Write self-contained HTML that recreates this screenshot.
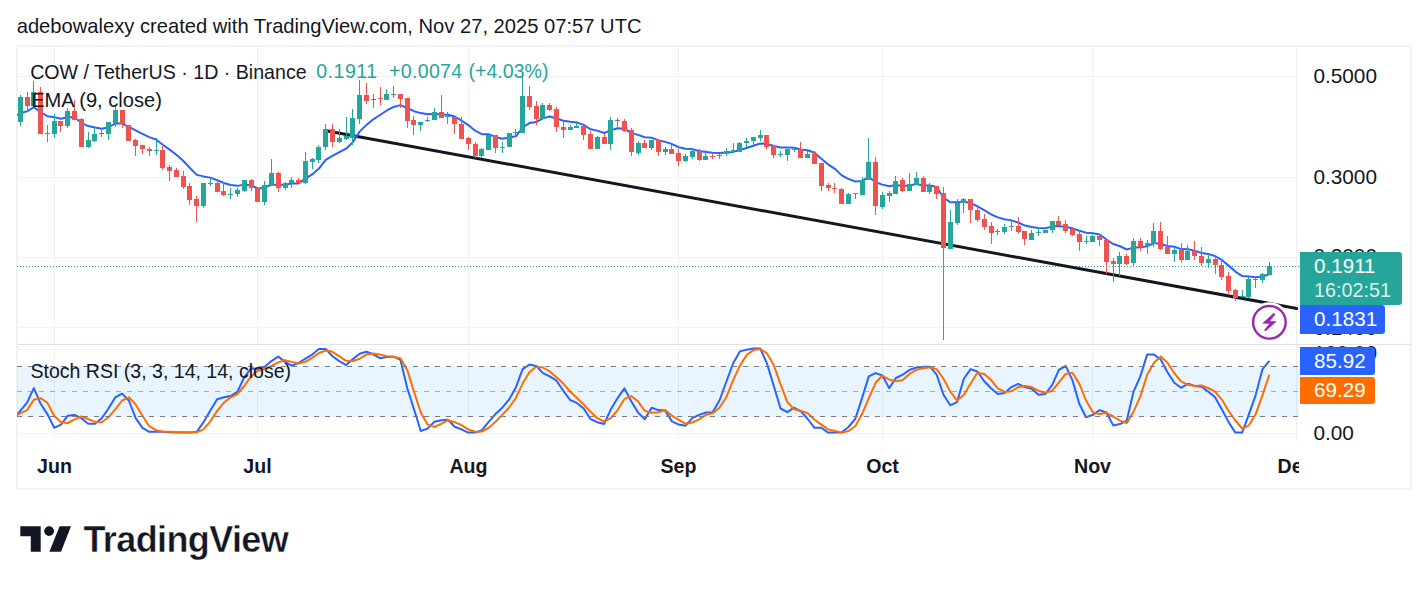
<!DOCTYPE html>
<html><head><meta charset="utf-8"><style>
html,body{margin:0;padding:0;background:#fff;width:1428px;height:591px;overflow:hidden}
.t{position:absolute;font-family:"Liberation Sans", sans-serif;white-space:pre;color:#131722;line-height:1}
svg{position:absolute;left:0;top:0}
</style></head><body>
<svg width="1428" height="591" viewBox="0 0 1428 591">
<defs>
<clipPath id="mp"><rect x="17" y="46" width="1282" height="298"/></clipPath>
<clipPath id="rp"><rect x="17" y="345" width="1282" height="96.5"/></clipPath>
</defs>
<rect x="17" y="46" width="1394" height="443" fill="none" stroke="#f2f2f2" stroke-width="2"/>
<line x1="54.5" y1="46" x2="54.5" y2="441.5" stroke="#f1f1f2" stroke-width="1"/>
<line x1="257.5" y1="46" x2="257.5" y2="441.5" stroke="#f1f1f2" stroke-width="1"/>
<line x1="468.5" y1="46" x2="468.5" y2="441.5" stroke="#f1f1f2" stroke-width="1"/>
<line x1="678.5" y1="46" x2="678.5" y2="441.5" stroke="#f1f1f2" stroke-width="1"/>
<line x1="882.5" y1="46" x2="882.5" y2="441.5" stroke="#f1f1f2" stroke-width="1"/>
<line x1="1092.5" y1="46" x2="1092.5" y2="441.5" stroke="#f1f1f2" stroke-width="1"/>
<line x1="17" y1="76.5" x2="1297" y2="76.5" stroke="#f1f1f2" stroke-width="1"/>
<line x1="17" y1="177.5" x2="1297" y2="177.5" stroke="#f1f1f2" stroke-width="1"/>
<line x1="17" y1="257.5" x2="1297" y2="257.5" stroke="#f1f1f2" stroke-width="1"/>
<line x1="17" y1="327.5" x2="1297" y2="327.5" stroke="#f1f1f2" stroke-width="1"/>
<line x1="17" y1="349.5" x2="1297" y2="349.5" stroke="#f1f1f2" stroke-width="1"/>
<line x1="17" y1="433.5" x2="1297" y2="433.5" stroke="#f1f1f2" stroke-width="1"/>
<line x1="1296.5" y1="46" x2="1296.5" y2="441.5" stroke="#eeeff2" stroke-width="1"/>
<line x1="17" y1="344.5" x2="1411" y2="344.5" stroke="#e0e3eb" stroke-width="1"/>
<g clip-path="url(#rp)">
<rect x="17" y="366" width="1282" height="51" fill="rgba(33,150,243,0.1)"/>
<polyline points="13.47,419.20 20.26,410.90 27.05,402.60 33.84,388.10 40.63,403.70 47.41,414.10 54.20,427.80 60.99,424.60 67.78,415.70 74.57,414.90 81.36,418.20 88.14,423.80 94.93,423.80 101.72,418.20 108.51,408.50 115.30,397.30 122.09,393.60 128.88,400.50 135.66,418.20 142.45,427.80 149.24,431.80 156.03,431.80 162.82,431.80 169.61,432.30 176.39,432.60 183.18,432.60 189.97,432.60 196.76,431.80 203.55,422.20 210.34,410.50 217.13,399.30 223.91,397.30 230.70,396.10 237.49,391.60 244.28,377.20 251.07,368.30 257.86,369.10 264.64,366.70 271.43,361.10 278.22,356.60 285.01,361.90 291.80,365.60 298.59,363.00 305.37,358.70 312.16,354.60 318.95,349.00 325.74,349.00 332.53,356.30 339.32,361.10 346.11,365.10 352.89,359.10 359.68,353.80 366.47,351.80 373.26,354.30 380.05,358.20 386.84,357.10 393.62,356.60 400.41,359.80 407.20,388.00 413.99,409.30 420.78,431.00 427.57,428.60 434.36,421.80 441.14,420.20 447.93,419.80 454.72,426.70 461.51,429.40 468.30,432.60 475.09,432.60 481.87,430.20 488.66,421.80 495.45,414.10 502.24,407.70 509.03,399.70 515.82,387.60 522.61,369.10 529.39,364.60 536.18,365.90 542.97,373.10 549.76,376.40 556.55,380.70 563.34,390.80 570.12,400.00 576.91,402.90 583.70,408.50 590.49,419.00 597.28,422.20 604.07,424.00 610.86,409.30 617.64,398.10 624.43,388.40 631.22,401.30 638.01,412.50 644.80,419.30 651.59,407.70 658.37,410.10 665.16,410.60 671.95,421.40 678.74,424.60 685.53,425.70 692.32,418.20 699.11,414.90 705.89,412.50 712.68,412.20 719.47,400.50 726.26,382.00 733.05,363.50 739.84,351.40 746.62,349.80 753.41,348.50 760.20,348.50 766.99,363.50 773.78,386.00 780.57,408.50 787.35,412.20 794.14,407.70 800.93,411.30 807.72,419.00 814.51,427.80 821.30,427.80 828.09,432.60 834.87,432.60 841.66,432.60 848.45,427.00 855.24,419.00 862.03,398.10 868.82,376.40 875.60,373.10 882.39,375.50 889.18,388.10 895.97,378.00 902.76,374.70 909.55,369.90 916.34,367.50 923.12,366.70 929.91,366.70 936.70,374.70 943.49,394.80 950.28,405.30 957.07,402.10 963.85,378.80 970.64,369.10 977.43,371.50 984.22,381.20 991.01,388.20 997.80,394.00 1004.59,392.90 1011.37,387.10 1018.16,383.90 1024.95,387.10 1031.74,388.70 1038.53,394.80 1045.32,394.00 1052.10,385.20 1058.89,369.90 1065.68,365.90 1072.47,380.40 1079.26,403.70 1086.05,417.30 1092.84,414.90 1099.62,410.10 1106.41,412.50 1113.20,425.40 1119.99,424.10 1126.78,420.60 1133.57,391.60 1140.35,376.40 1147.14,354.60 1153.93,354.60 1160.72,359.50 1167.51,372.30 1174.30,382.80 1181.08,387.80 1187.87,383.80 1194.66,386.00 1201.45,386.80 1208.24,391.60 1215.03,397.20 1221.82,409.30 1228.60,422.10 1235.39,432.60 1242.18,432.60 1248.97,414.10 1255.76,394.80 1262.55,369.10 1269.33,360.80" fill="none" stroke="#2962ff" stroke-width="2" stroke-linejoin="round"/>
<polyline points="13.47,416.50 20.26,413.30 27.05,410.10 33.84,399.70 40.63,398.10 47.41,402.90 54.20,415.70 60.99,422.20 67.78,423.00 74.57,419.30 81.36,416.50 88.14,419.00 94.93,421.80 101.72,422.20 108.51,417.30 115.30,409.30 122.09,400.50 128.88,397.30 135.66,404.50 142.45,415.70 149.24,426.20 156.03,430.20 162.82,431.80 169.61,431.80 176.39,432.00 183.18,432.30 189.97,432.60 196.76,432.30 203.55,429.40 210.34,421.40 217.13,410.90 223.91,402.60 230.70,397.30 237.49,394.00 244.28,386.00 251.07,376.40 257.86,370.70 264.64,368.80 271.43,365.90 278.22,362.40 285.01,360.30 291.80,361.90 298.59,363.50 305.37,361.90 312.16,357.90 318.95,353.00 325.74,350.60 332.53,351.80 339.32,356.30 346.11,360.80 352.89,361.10 359.68,358.70 366.47,354.60 373.26,353.40 380.05,354.60 386.84,356.30 393.62,357.10 400.41,358.20 407.20,369.90 413.99,391.60 420.78,412.50 427.57,424.60 434.36,427.00 441.14,423.80 447.93,420.20 454.72,422.20 461.51,425.10 468.30,429.40 475.09,431.80 481.87,431.50 488.66,427.80 495.45,421.80 502.24,414.90 509.03,407.70 515.82,398.00 522.61,383.60 529.39,372.30 536.18,366.70 542.97,367.50 549.76,371.50 556.55,377.20 563.34,383.60 570.12,391.60 576.91,398.00 583.70,404.50 590.49,411.70 597.28,418.20 604.07,421.50 610.86,418.20 617.64,410.10 624.43,398.90 631.22,396.10 638.01,401.30 644.80,410.90 651.59,412.80 658.37,412.20 665.16,410.10 671.95,415.70 678.74,419.80 685.53,423.80 692.32,422.50 699.11,419.30 705.89,414.90 712.68,413.30 719.47,407.70 726.26,397.30 733.05,380.40 739.84,365.90 746.62,355.00 753.41,350.10 760.20,349.00 766.99,353.40 773.78,365.10 780.57,384.40 787.35,402.10 794.14,409.30 800.93,410.90 807.72,413.30 814.51,419.80 821.30,424.60 828.09,429.40 834.87,431.00 841.66,432.60 848.45,431.00 855.24,426.20 862.03,414.10 868.82,398.10 875.60,382.80 882.39,375.50 889.18,379.60 895.97,381.20 902.76,380.00 909.55,373.90 916.34,369.90 923.12,368.30 929.91,367.20 936.70,369.10 943.49,378.80 950.28,391.60 957.07,400.50 963.85,394.80 970.64,383.60 977.43,372.70 984.22,373.90 991.01,380.00 997.80,388.40 1004.59,391.90 1011.37,391.30 1018.16,387.10 1024.95,386.00 1031.74,387.10 1038.53,390.80 1045.32,392.90 1052.10,390.80 1058.89,382.30 1065.68,373.90 1072.47,372.70 1079.26,383.60 1086.05,400.50 1092.84,412.20 1099.62,414.10 1106.41,412.80 1113.20,416.50 1119.99,420.60 1126.78,423.00 1133.57,411.70 1140.35,396.40 1147.14,374.70 1153.93,362.70 1160.72,356.60 1167.51,362.70 1174.30,373.10 1181.08,381.40 1187.87,384.80 1194.66,386.00 1201.45,385.50 1208.24,388.00 1215.03,391.60 1221.82,399.60 1228.60,410.90 1235.39,420.50 1242.18,428.50 1248.97,425.30 1255.76,414.10 1262.55,394.80 1269.33,374.70" fill="none" stroke="#ff6d00" stroke-width="2" stroke-linejoin="round"/>
<line x1="17" y1="366.5" x2="1299" y2="366.5" stroke="#787b86" stroke-width="1" stroke-dasharray="5 6"/>
<line x1="17" y1="391.5" x2="1299" y2="391.5" stroke="rgba(120,123,134,0.6)" stroke-width="1" stroke-dasharray="5 6"/>
<line x1="17" y1="416.5" x2="1299" y2="416.5" stroke="#787b86" stroke-width="1" stroke-dasharray="5 6"/>
</g>
<g clip-path="url(#mp)">
<line x1="17" y1="266.5" x2="1299" y2="266.5" stroke="#26a69a" stroke-width="1" stroke-dasharray="1 2"/>
<line x1="326" y1="130.8" x2="1296.7" y2="308.4" stroke="#131722" stroke-width="3" stroke-linecap="round"/>
<polyline points="13.47,117.40 20.26,113.00 27.05,111.39 33.84,107.31 40.63,112.17 47.41,116.26 54.20,117.14 60.99,118.71 67.78,117.04 74.57,117.41 81.36,122.81 88.14,126.05 94.93,127.52 101.72,128.68 108.51,127.24 115.30,123.54 122.09,123.62 128.88,126.79 135.66,130.32 142.45,133.86 149.24,137.11 156.03,139.53 162.82,144.80 169.61,149.66 176.39,154.76 183.18,160.75 189.97,167.98 196.76,174.85 203.55,176.40 210.34,177.64 217.13,180.24 223.91,182.96 230.70,184.96 237.49,185.86 244.28,184.64 251.07,185.28 257.86,188.38 264.64,187.66 271.43,184.56 278.22,185.04 285.01,184.59 291.80,183.62 298.59,183.40 305.37,178.65 312.16,174.43 318.95,168.54 325.74,159.86 332.53,155.98 339.32,152.19 346.11,148.71 352.89,142.13 359.68,131.64 366.47,124.90 373.26,119.31 380.05,114.99 386.84,110.48 393.62,106.94 400.41,105.12 407.20,108.03 413.99,111.20 420.78,113.10 427.57,114.34 434.36,113.81 441.14,114.60 447.93,114.70 454.72,116.51 461.51,120.64 468.30,125.06 475.09,130.73 481.87,134.22 488.66,134.29 495.45,136.94 502.24,138.78 509.03,137.53 515.82,136.31 522.61,127.49 529.39,123.05 536.18,122.05 542.97,118.41 549.76,116.51 556.55,118.47 563.34,120.70 570.12,121.85 576.91,122.55 583.70,124.83 590.49,129.25 597.28,130.62 604.07,133.04 610.86,130.32 617.64,128.29 624.43,128.63 631.22,133.04 638.01,134.89 644.80,137.26 651.59,137.68 658.37,140.31 665.16,141.89 671.95,144.06 678.74,147.20 685.53,148.83 692.32,149.11 699.11,151.05 705.89,151.93 712.68,152.74 719.47,153.07 726.26,152.57 733.05,151.91 739.84,149.97 746.62,148.02 753.41,145.70 760.20,143.43 766.99,143.98 773.78,146.00 780.57,147.46 787.35,147.59 794.14,147.67 800.93,149.50 807.72,150.30 814.51,152.77 821.30,158.81 828.09,164.30 834.87,168.83 841.66,175.35 848.45,178.89 855.24,181.48 862.03,180.96 868.82,176.95 875.60,182.24 882.39,184.65 889.18,186.23 895.97,185.07 902.76,186.07 909.55,185.55 916.34,184.00 923.12,185.40 929.91,185.40 936.70,186.91 943.49,197.70 950.28,202.25 957.07,202.24 963.85,201.53 970.64,203.16 977.43,206.28 984.22,210.09 991.01,214.32 997.80,217.39 1004.59,219.20 1011.37,220.39 1018.16,222.50 1024.95,225.56 1031.74,226.99 1038.53,227.90 1045.32,228.20 1052.10,226.62 1058.89,226.09 1065.68,226.89 1072.47,228.33 1079.26,230.78 1086.05,232.63 1092.84,233.20 1099.62,234.52 1106.41,239.54 1113.20,244.00 1119.99,246.26 1126.78,249.48 1133.57,247.63 1140.35,247.34 1147.14,246.37 1153.93,243.07 1160.72,244.04 1167.51,245.98 1174.30,246.70 1181.08,249.12 1187.87,249.35 1194.66,250.61 1201.45,252.98 1208.24,254.06 1215.03,256.14 1221.82,259.97 1228.60,265.64 1235.39,271.55 1242.18,276.09 1248.97,276.59 1255.76,277.15 1262.55,276.43 1269.33,274.18" fill="none" stroke="#2962ff" stroke-width="2" stroke-linejoin="round"/>
<rect x="20" y="95" width="1" height="31" fill="#26a69a"/>
<rect x="18" y="97" width="5" height="25" fill="#26a69a"/>
<rect x="27" y="92" width="1" height="18" fill="#ef5350"/>
<rect x="25" y="97" width="5" height="9" fill="#ef5350"/>
<rect x="33" y="81" width="1" height="26" fill="#26a69a"/>
<rect x="31" y="92" width="5" height="14" fill="#26a69a"/>
<rect x="40" y="87" width="1" height="47" fill="#ef5350"/>
<rect x="38" y="92" width="5" height="42" fill="#ef5350"/>
<rect x="47" y="125" width="1" height="17" fill="#ef5350"/>
<rect x="45" y="133" width="5" height="1" fill="#ef5350"/>
<rect x="54" y="114" width="1" height="24" fill="#26a69a"/>
<rect x="52" y="121" width="5" height="13" fill="#26a69a"/>
<rect x="60" y="121" width="1" height="11" fill="#ef5350"/>
<rect x="58" y="121" width="5" height="5" fill="#ef5350"/>
<rect x="67" y="108" width="1" height="20" fill="#26a69a"/>
<rect x="65" y="111" width="5" height="15" fill="#26a69a"/>
<rect x="74" y="100" width="1" height="20" fill="#ef5350"/>
<rect x="72" y="111" width="5" height="9" fill="#ef5350"/>
<rect x="81" y="118" width="1" height="29" fill="#ef5350"/>
<rect x="79" y="119" width="5" height="28" fill="#ef5350"/>
<rect x="88" y="132" width="1" height="16" fill="#26a69a"/>
<rect x="86" y="140" width="5" height="7" fill="#26a69a"/>
<rect x="94" y="127" width="1" height="15" fill="#26a69a"/>
<rect x="92" y="134" width="5" height="7" fill="#26a69a"/>
<rect x="101" y="130" width="1" height="7" fill="#ef5350"/>
<rect x="99" y="133" width="5" height="1" fill="#ef5350"/>
<rect x="108" y="122" width="1" height="18" fill="#26a69a"/>
<rect x="106" y="122" width="5" height="12" fill="#26a69a"/>
<rect x="115" y="106" width="1" height="21" fill="#26a69a"/>
<rect x="113" y="110" width="5" height="13" fill="#26a69a"/>
<rect x="122" y="110" width="1" height="18" fill="#ef5350"/>
<rect x="120" y="110" width="5" height="14" fill="#ef5350"/>
<rect x="128" y="125" width="1" height="16" fill="#ef5350"/>
<rect x="126" y="125" width="5" height="16" fill="#ef5350"/>
<rect x="135" y="139" width="1" height="17" fill="#ef5350"/>
<rect x="133" y="140" width="5" height="6" fill="#ef5350"/>
<rect x="142" y="145" width="1" height="9" fill="#ef5350"/>
<rect x="140" y="145" width="5" height="4" fill="#ef5350"/>
<rect x="149" y="147" width="1" height="9" fill="#ef5350"/>
<rect x="147" y="149" width="5" height="2" fill="#ef5350"/>
<rect x="156" y="138" width="1" height="17" fill="#26a69a"/>
<rect x="154" y="150" width="5" height="1" fill="#26a69a"/>
<rect x="162" y="146" width="1" height="24" fill="#ef5350"/>
<rect x="160" y="150" width="5" height="18" fill="#ef5350"/>
<rect x="169" y="165" width="1" height="16" fill="#ef5350"/>
<rect x="167" y="167" width="5" height="4" fill="#ef5350"/>
<rect x="176" y="168" width="1" height="9" fill="#ef5350"/>
<rect x="174" y="170" width="5" height="7" fill="#ef5350"/>
<rect x="183" y="171" width="1" height="18" fill="#ef5350"/>
<rect x="181" y="176" width="5" height="11" fill="#ef5350"/>
<rect x="189" y="183" width="1" height="22" fill="#ef5350"/>
<rect x="187" y="186" width="5" height="14" fill="#ef5350"/>
<rect x="196" y="196" width="1" height="26" fill="#ef5350"/>
<rect x="194" y="199" width="5" height="7" fill="#ef5350"/>
<rect x="203" y="183" width="1" height="25" fill="#26a69a"/>
<rect x="201" y="183" width="5" height="23" fill="#26a69a"/>
<rect x="210" y="178" width="1" height="8" fill="#26a69a"/>
<rect x="208" y="183" width="5" height="1" fill="#26a69a"/>
<rect x="217" y="180" width="1" height="12" fill="#ef5350"/>
<rect x="215" y="183" width="5" height="9" fill="#ef5350"/>
<rect x="223" y="182" width="1" height="14" fill="#ef5350"/>
<rect x="221" y="191" width="5" height="4" fill="#ef5350"/>
<rect x="230" y="188" width="1" height="11" fill="#26a69a"/>
<rect x="228" y="194" width="5" height="1" fill="#26a69a"/>
<rect x="237" y="188" width="1" height="9" fill="#26a69a"/>
<rect x="235" y="190" width="5" height="4" fill="#26a69a"/>
<rect x="244" y="180" width="1" height="12" fill="#26a69a"/>
<rect x="242" y="180" width="5" height="11" fill="#26a69a"/>
<rect x="251" y="179" width="1" height="12" fill="#ef5350"/>
<rect x="249" y="180" width="5" height="8" fill="#ef5350"/>
<rect x="257" y="187" width="1" height="15" fill="#ef5350"/>
<rect x="255" y="188" width="5" height="14" fill="#ef5350"/>
<rect x="264" y="181" width="1" height="24" fill="#26a69a"/>
<rect x="262" y="185" width="5" height="17" fill="#26a69a"/>
<rect x="271" y="159" width="1" height="26" fill="#26a69a"/>
<rect x="269" y="173" width="5" height="12" fill="#26a69a"/>
<rect x="278" y="172" width="1" height="20" fill="#ef5350"/>
<rect x="276" y="173" width="5" height="15" fill="#ef5350"/>
<rect x="285" y="182" width="1" height="8" fill="#26a69a"/>
<rect x="283" y="183" width="5" height="5" fill="#26a69a"/>
<rect x="291" y="177" width="1" height="11" fill="#26a69a"/>
<rect x="289" y="180" width="5" height="3" fill="#26a69a"/>
<rect x="298" y="178" width="1" height="5" fill="#ef5350"/>
<rect x="296" y="180" width="5" height="3" fill="#ef5350"/>
<rect x="305" y="152" width="1" height="32" fill="#26a69a"/>
<rect x="303" y="161" width="5" height="22" fill="#26a69a"/>
<rect x="312" y="158" width="1" height="11" fill="#26a69a"/>
<rect x="310" y="159" width="5" height="3" fill="#26a69a"/>
<rect x="318" y="145" width="1" height="18" fill="#26a69a"/>
<rect x="316" y="147" width="5" height="13" fill="#26a69a"/>
<rect x="325" y="124" width="1" height="26" fill="#26a69a"/>
<rect x="323" y="129" width="5" height="18" fill="#26a69a"/>
<rect x="332" y="124" width="1" height="23" fill="#ef5350"/>
<rect x="330" y="129" width="5" height="13" fill="#ef5350"/>
<rect x="339" y="129" width="1" height="14" fill="#26a69a"/>
<rect x="337" y="138" width="5" height="4" fill="#26a69a"/>
<rect x="346" y="117" width="1" height="23" fill="#26a69a"/>
<rect x="344" y="136" width="5" height="3" fill="#26a69a"/>
<rect x="352" y="109" width="1" height="36" fill="#26a69a"/>
<rect x="350" y="118" width="5" height="20" fill="#26a69a"/>
<rect x="359" y="80" width="1" height="44" fill="#26a69a"/>
<rect x="357" y="95" width="5" height="24" fill="#26a69a"/>
<rect x="366" y="83" width="1" height="21" fill="#ef5350"/>
<rect x="364" y="95" width="5" height="6" fill="#ef5350"/>
<rect x="373" y="94" width="1" height="14" fill="#26a69a"/>
<rect x="371" y="99" width="5" height="1" fill="#26a69a"/>
<rect x="380" y="87" width="1" height="18" fill="#ef5350"/>
<rect x="378" y="98" width="5" height="1" fill="#ef5350"/>
<rect x="386" y="89" width="1" height="11" fill="#26a69a"/>
<rect x="384" y="94" width="5" height="6" fill="#26a69a"/>
<rect x="393" y="86" width="1" height="12" fill="#26a69a"/>
<rect x="391" y="94" width="5" height="1" fill="#26a69a"/>
<rect x="400" y="94" width="1" height="14" fill="#ef5350"/>
<rect x="398" y="94" width="5" height="5" fill="#ef5350"/>
<rect x="407" y="98" width="1" height="30" fill="#ef5350"/>
<rect x="405" y="98" width="5" height="23" fill="#ef5350"/>
<rect x="413" y="116" width="1" height="19" fill="#ef5350"/>
<rect x="411" y="120" width="5" height="5" fill="#ef5350"/>
<rect x="420" y="122" width="1" height="9" fill="#26a69a"/>
<rect x="418" y="122" width="5" height="3" fill="#26a69a"/>
<rect x="427" y="117" width="1" height="5" fill="#26a69a"/>
<rect x="425" y="120" width="5" height="1" fill="#26a69a"/>
<rect x="434" y="108" width="1" height="12" fill="#26a69a"/>
<rect x="432" y="112" width="5" height="8" fill="#26a69a"/>
<rect x="441" y="95" width="1" height="23" fill="#ef5350"/>
<rect x="439" y="112" width="5" height="6" fill="#ef5350"/>
<rect x="447" y="112" width="1" height="12" fill="#26a69a"/>
<rect x="445" y="116" width="5" height="1" fill="#26a69a"/>
<rect x="454" y="117" width="1" height="17" fill="#ef5350"/>
<rect x="452" y="117" width="5" height="7" fill="#ef5350"/>
<rect x="461" y="117" width="1" height="22" fill="#ef5350"/>
<rect x="459" y="124" width="5" height="15" fill="#ef5350"/>
<rect x="468" y="137" width="1" height="13" fill="#ef5350"/>
<rect x="466" y="138" width="5" height="6" fill="#ef5350"/>
<rect x="475" y="142" width="1" height="16" fill="#ef5350"/>
<rect x="473" y="144" width="5" height="12" fill="#ef5350"/>
<rect x="481" y="148" width="1" height="10" fill="#26a69a"/>
<rect x="479" y="149" width="5" height="7" fill="#26a69a"/>
<rect x="488" y="135" width="1" height="15" fill="#26a69a"/>
<rect x="486" y="135" width="5" height="15" fill="#26a69a"/>
<rect x="495" y="135" width="1" height="18" fill="#ef5350"/>
<rect x="493" y="135" width="5" height="13" fill="#ef5350"/>
<rect x="502" y="142" width="1" height="11" fill="#26a69a"/>
<rect x="500" y="147" width="5" height="1" fill="#26a69a"/>
<rect x="509" y="133" width="1" height="14" fill="#26a69a"/>
<rect x="507" y="133" width="5" height="14" fill="#26a69a"/>
<rect x="515" y="129" width="1" height="7" fill="#26a69a"/>
<rect x="513" y="132" width="5" height="1" fill="#26a69a"/>
<rect x="522" y="72" width="1" height="61" fill="#26a69a"/>
<rect x="520" y="96" width="5" height="37" fill="#26a69a"/>
<rect x="529" y="86" width="1" height="24" fill="#ef5350"/>
<rect x="527" y="96" width="5" height="11" fill="#ef5350"/>
<rect x="536" y="101" width="1" height="24" fill="#ef5350"/>
<rect x="534" y="106" width="5" height="13" fill="#ef5350"/>
<rect x="542" y="103" width="1" height="16" fill="#26a69a"/>
<rect x="540" y="105" width="5" height="14" fill="#26a69a"/>
<rect x="549" y="103" width="1" height="8" fill="#ef5350"/>
<rect x="547" y="105" width="5" height="5" fill="#ef5350"/>
<rect x="556" y="107" width="1" height="25" fill="#ef5350"/>
<rect x="554" y="109" width="5" height="18" fill="#ef5350"/>
<rect x="563" y="122" width="1" height="16" fill="#ef5350"/>
<rect x="561" y="127" width="5" height="3" fill="#ef5350"/>
<rect x="570" y="125" width="1" height="5" fill="#26a69a"/>
<rect x="568" y="127" width="5" height="3" fill="#26a69a"/>
<rect x="576" y="121" width="1" height="7" fill="#26a69a"/>
<rect x="574" y="126" width="5" height="2" fill="#26a69a"/>
<rect x="583" y="126" width="1" height="14" fill="#ef5350"/>
<rect x="581" y="126" width="5" height="9" fill="#ef5350"/>
<rect x="590" y="131" width="1" height="18" fill="#ef5350"/>
<rect x="588" y="134" width="5" height="15" fill="#ef5350"/>
<rect x="597" y="136" width="1" height="13" fill="#26a69a"/>
<rect x="595" y="137" width="5" height="12" fill="#26a69a"/>
<rect x="604" y="134" width="1" height="10" fill="#ef5350"/>
<rect x="602" y="137" width="5" height="7" fill="#ef5350"/>
<rect x="610" y="117" width="1" height="33" fill="#26a69a"/>
<rect x="608" y="120" width="5" height="24" fill="#26a69a"/>
<rect x="617" y="118" width="1" height="9" fill="#ef5350"/>
<rect x="615" y="120" width="5" height="1" fill="#ef5350"/>
<rect x="624" y="119" width="1" height="13" fill="#ef5350"/>
<rect x="622" y="121" width="5" height="10" fill="#ef5350"/>
<rect x="631" y="128" width="1" height="28" fill="#ef5350"/>
<rect x="629" y="130" width="5" height="22" fill="#ef5350"/>
<rect x="638" y="141" width="1" height="14" fill="#26a69a"/>
<rect x="636" y="143" width="5" height="10" fill="#26a69a"/>
<rect x="644" y="140" width="1" height="8" fill="#ef5350"/>
<rect x="642" y="143" width="5" height="5" fill="#ef5350"/>
<rect x="651" y="140" width="1" height="10" fill="#26a69a"/>
<rect x="649" y="140" width="5" height="8" fill="#26a69a"/>
<rect x="658" y="140" width="1" height="16" fill="#ef5350"/>
<rect x="656" y="140" width="5" height="12" fill="#ef5350"/>
<rect x="665" y="147" width="1" height="8" fill="#26a69a"/>
<rect x="663" y="149" width="5" height="3" fill="#26a69a"/>
<rect x="671" y="145" width="1" height="9" fill="#ef5350"/>
<rect x="669" y="149" width="5" height="5" fill="#ef5350"/>
<rect x="678" y="149" width="1" height="17" fill="#ef5350"/>
<rect x="676" y="153" width="5" height="8" fill="#ef5350"/>
<rect x="685" y="154" width="1" height="8" fill="#26a69a"/>
<rect x="683" y="156" width="5" height="5" fill="#26a69a"/>
<rect x="692" y="149" width="1" height="10" fill="#26a69a"/>
<rect x="690" y="151" width="5" height="6" fill="#26a69a"/>
<rect x="699" y="149" width="1" height="12" fill="#ef5350"/>
<rect x="697" y="151" width="5" height="9" fill="#ef5350"/>
<rect x="705" y="150" width="1" height="10" fill="#26a69a"/>
<rect x="703" y="156" width="5" height="4" fill="#26a69a"/>
<rect x="712" y="154" width="1" height="5" fill="#ef5350"/>
<rect x="710" y="156" width="5" height="1" fill="#ef5350"/>
<rect x="719" y="154" width="1" height="5" fill="#26a69a"/>
<rect x="717" y="155" width="5" height="1" fill="#26a69a"/>
<rect x="726" y="148" width="1" height="8" fill="#26a69a"/>
<rect x="724" y="151" width="5" height="3" fill="#26a69a"/>
<rect x="733" y="143" width="1" height="9" fill="#26a69a"/>
<rect x="731" y="150" width="5" height="1" fill="#26a69a"/>
<rect x="739" y="142" width="1" height="10" fill="#26a69a"/>
<rect x="737" y="143" width="5" height="9" fill="#26a69a"/>
<rect x="746" y="138" width="1" height="9" fill="#26a69a"/>
<rect x="744" y="141" width="5" height="2" fill="#26a69a"/>
<rect x="753" y="137" width="1" height="8" fill="#26a69a"/>
<rect x="751" y="137" width="5" height="4" fill="#26a69a"/>
<rect x="760" y="130" width="1" height="11" fill="#26a69a"/>
<rect x="758" y="135" width="5" height="3" fill="#26a69a"/>
<rect x="766" y="135" width="1" height="14" fill="#ef5350"/>
<rect x="764" y="135" width="5" height="12" fill="#ef5350"/>
<rect x="773" y="145" width="1" height="13" fill="#ef5350"/>
<rect x="771" y="146" width="5" height="9" fill="#ef5350"/>
<rect x="780" y="151" width="1" height="6" fill="#26a69a"/>
<rect x="778" y="154" width="5" height="1" fill="#26a69a"/>
<rect x="787" y="149" width="1" height="12" fill="#26a69a"/>
<rect x="785" y="149" width="5" height="6" fill="#26a69a"/>
<rect x="794" y="147" width="1" height="5" fill="#26a69a"/>
<rect x="792" y="149" width="5" height="1" fill="#26a69a"/>
<rect x="800" y="142" width="1" height="16" fill="#ef5350"/>
<rect x="798" y="149" width="5" height="9" fill="#ef5350"/>
<rect x="807" y="151" width="1" height="7" fill="#26a69a"/>
<rect x="805" y="154" width="5" height="4" fill="#26a69a"/>
<rect x="814" y="151" width="1" height="13" fill="#ef5350"/>
<rect x="812" y="154" width="5" height="10" fill="#ef5350"/>
<rect x="821" y="163" width="1" height="28" fill="#ef5350"/>
<rect x="819" y="163" width="5" height="23" fill="#ef5350"/>
<rect x="828" y="183" width="1" height="8" fill="#ef5350"/>
<rect x="826" y="185" width="5" height="3" fill="#ef5350"/>
<rect x="834" y="183" width="1" height="10" fill="#ef5350"/>
<rect x="832" y="188" width="5" height="1" fill="#ef5350"/>
<rect x="841" y="188" width="1" height="16" fill="#ef5350"/>
<rect x="839" y="189" width="5" height="15" fill="#ef5350"/>
<rect x="848" y="193" width="1" height="11" fill="#26a69a"/>
<rect x="846" y="194" width="5" height="10" fill="#26a69a"/>
<rect x="855" y="193" width="1" height="6" fill="#26a69a"/>
<rect x="853" y="193" width="5" height="1" fill="#26a69a"/>
<rect x="862" y="177" width="1" height="18" fill="#26a69a"/>
<rect x="860" y="180" width="5" height="15" fill="#26a69a"/>
<rect x="868" y="138" width="1" height="42" fill="#26a69a"/>
<rect x="866" y="162" width="5" height="18" fill="#26a69a"/>
<rect x="875" y="157" width="1" height="58" fill="#ef5350"/>
<rect x="873" y="162" width="5" height="44" fill="#ef5350"/>
<rect x="882" y="192" width="1" height="17" fill="#26a69a"/>
<rect x="880" y="195" width="5" height="12" fill="#26a69a"/>
<rect x="889" y="191" width="1" height="11" fill="#26a69a"/>
<rect x="887" y="193" width="5" height="3" fill="#26a69a"/>
<rect x="895" y="176" width="1" height="18" fill="#26a69a"/>
<rect x="893" y="181" width="5" height="13" fill="#26a69a"/>
<rect x="902" y="178" width="1" height="14" fill="#ef5350"/>
<rect x="900" y="180" width="5" height="11" fill="#ef5350"/>
<rect x="909" y="173" width="1" height="18" fill="#26a69a"/>
<rect x="907" y="184" width="5" height="7" fill="#26a69a"/>
<rect x="916" y="172" width="1" height="13" fill="#26a69a"/>
<rect x="914" y="178" width="5" height="7" fill="#26a69a"/>
<rect x="923" y="176" width="1" height="16" fill="#ef5350"/>
<rect x="921" y="178" width="5" height="14" fill="#ef5350"/>
<rect x="929" y="183" width="1" height="11" fill="#26a69a"/>
<rect x="927" y="186" width="5" height="6" fill="#26a69a"/>
<rect x="936" y="186" width="1" height="13" fill="#ef5350"/>
<rect x="934" y="186" width="5" height="8" fill="#ef5350"/>
<rect x="943" y="187" width="1" height="153" fill="#ef5350"/>
<rect x="941" y="193" width="5" height="55" fill="#ef5350"/>
<rect x="950" y="210" width="1" height="39" fill="#26a69a"/>
<rect x="948" y="222" width="5" height="27" fill="#26a69a"/>
<rect x="957" y="199" width="1" height="26" fill="#26a69a"/>
<rect x="955" y="203" width="5" height="20" fill="#26a69a"/>
<rect x="963" y="198" width="1" height="15" fill="#26a69a"/>
<rect x="961" y="199" width="5" height="4" fill="#26a69a"/>
<rect x="970" y="199" width="1" height="24" fill="#ef5350"/>
<rect x="968" y="199" width="5" height="11" fill="#ef5350"/>
<rect x="977" y="205" width="1" height="17" fill="#ef5350"/>
<rect x="975" y="210" width="5" height="10" fill="#ef5350"/>
<rect x="984" y="214" width="1" height="16" fill="#ef5350"/>
<rect x="982" y="219" width="5" height="8" fill="#ef5350"/>
<rect x="991" y="222" width="1" height="22" fill="#ef5350"/>
<rect x="989" y="226" width="5" height="7" fill="#ef5350"/>
<rect x="997" y="229" width="1" height="6" fill="#26a69a"/>
<rect x="995" y="231" width="5" height="1" fill="#26a69a"/>
<rect x="1004" y="224" width="1" height="10" fill="#26a69a"/>
<rect x="1002" y="227" width="5" height="5" fill="#26a69a"/>
<rect x="1011" y="221" width="1" height="10" fill="#26a69a"/>
<rect x="1009" y="226" width="5" height="1" fill="#26a69a"/>
<rect x="1018" y="217" width="1" height="17" fill="#ef5350"/>
<rect x="1016" y="226" width="5" height="6" fill="#ef5350"/>
<rect x="1024" y="231" width="1" height="14" fill="#ef5350"/>
<rect x="1022" y="231" width="5" height="8" fill="#ef5350"/>
<rect x="1031" y="230" width="1" height="10" fill="#26a69a"/>
<rect x="1029" y="233" width="5" height="7" fill="#26a69a"/>
<rect x="1038" y="227" width="1" height="9" fill="#26a69a"/>
<rect x="1036" y="232" width="5" height="1" fill="#26a69a"/>
<rect x="1045" y="230" width="1" height="3" fill="#26a69a"/>
<rect x="1043" y="230" width="5" height="3" fill="#26a69a"/>
<rect x="1052" y="221" width="1" height="12" fill="#26a69a"/>
<rect x="1050" y="221" width="5" height="9" fill="#26a69a"/>
<rect x="1058" y="216" width="1" height="9" fill="#ef5350"/>
<rect x="1056" y="221" width="5" height="4" fill="#ef5350"/>
<rect x="1065" y="220" width="1" height="13" fill="#ef5350"/>
<rect x="1063" y="224" width="5" height="7" fill="#ef5350"/>
<rect x="1072" y="227" width="1" height="9" fill="#ef5350"/>
<rect x="1070" y="229" width="5" height="6" fill="#ef5350"/>
<rect x="1079" y="231" width="1" height="20" fill="#ef5350"/>
<rect x="1077" y="234" width="5" height="8" fill="#ef5350"/>
<rect x="1086" y="236" width="1" height="8" fill="#26a69a"/>
<rect x="1084" y="241" width="5" height="1" fill="#26a69a"/>
<rect x="1092" y="235" width="1" height="7" fill="#26a69a"/>
<rect x="1090" y="236" width="5" height="6" fill="#26a69a"/>
<rect x="1099" y="236" width="1" height="10" fill="#ef5350"/>
<rect x="1097" y="236" width="5" height="4" fill="#ef5350"/>
<rect x="1106" y="240" width="1" height="34" fill="#ef5350"/>
<rect x="1104" y="240" width="5" height="22" fill="#ef5350"/>
<rect x="1113" y="258" width="1" height="24" fill="#ef5350"/>
<rect x="1111" y="261" width="5" height="3" fill="#ef5350"/>
<rect x="1119" y="252" width="1" height="24" fill="#26a69a"/>
<rect x="1117" y="256" width="5" height="8" fill="#26a69a"/>
<rect x="1126" y="254" width="1" height="11" fill="#ef5350"/>
<rect x="1124" y="256" width="5" height="8" fill="#ef5350"/>
<rect x="1133" y="238" width="1" height="28" fill="#26a69a"/>
<rect x="1131" y="241" width="5" height="22" fill="#26a69a"/>
<rect x="1140" y="238" width="1" height="13" fill="#ef5350"/>
<rect x="1138" y="241" width="5" height="6" fill="#ef5350"/>
<rect x="1147" y="240" width="1" height="14" fill="#26a69a"/>
<rect x="1145" y="243" width="5" height="3" fill="#26a69a"/>
<rect x="1153" y="223" width="1" height="24" fill="#26a69a"/>
<rect x="1151" y="231" width="5" height="13" fill="#26a69a"/>
<rect x="1160" y="222" width="1" height="28" fill="#ef5350"/>
<rect x="1158" y="231" width="5" height="18" fill="#ef5350"/>
<rect x="1167" y="236" width="1" height="18" fill="#ef5350"/>
<rect x="1165" y="247" width="5" height="7" fill="#ef5350"/>
<rect x="1174" y="247" width="1" height="15" fill="#26a69a"/>
<rect x="1172" y="250" width="5" height="4" fill="#26a69a"/>
<rect x="1181" y="243" width="1" height="20" fill="#ef5350"/>
<rect x="1179" y="250" width="5" height="10" fill="#ef5350"/>
<rect x="1187" y="245" width="1" height="15" fill="#26a69a"/>
<rect x="1185" y="251" width="5" height="9" fill="#26a69a"/>
<rect x="1194" y="241" width="1" height="19" fill="#ef5350"/>
<rect x="1192" y="251" width="5" height="5" fill="#ef5350"/>
<rect x="1201" y="247" width="1" height="19" fill="#ef5350"/>
<rect x="1199" y="256" width="5" height="7" fill="#ef5350"/>
<rect x="1208" y="254" width="1" height="14" fill="#26a69a"/>
<rect x="1206" y="259" width="5" height="4" fill="#26a69a"/>
<rect x="1215" y="258" width="1" height="16" fill="#ef5350"/>
<rect x="1213" y="259" width="5" height="6" fill="#ef5350"/>
<rect x="1221" y="259" width="1" height="21" fill="#ef5350"/>
<rect x="1219" y="265" width="5" height="12" fill="#ef5350"/>
<rect x="1228" y="272" width="1" height="23" fill="#ef5350"/>
<rect x="1226" y="276" width="5" height="15" fill="#ef5350"/>
<rect x="1235" y="289" width="1" height="12" fill="#ef5350"/>
<rect x="1233" y="290" width="5" height="8" fill="#ef5350"/>
<rect x="1242" y="290" width="1" height="7" fill="#26a69a"/>
<rect x="1240" y="296" width="5" height="1" fill="#26a69a"/>
<rect x="1248" y="277" width="1" height="21" fill="#26a69a"/>
<rect x="1246" y="279" width="5" height="18" fill="#26a69a"/>
<rect x="1255" y="277" width="1" height="11" fill="#ef5350"/>
<rect x="1253" y="279" width="5" height="1" fill="#ef5350"/>
<rect x="1262" y="273" width="1" height="10" fill="#26a69a"/>
<rect x="1260" y="274" width="5" height="6" fill="#26a69a"/>
<rect x="1269" y="262" width="1" height="13" fill="#26a69a"/>
<rect x="1267" y="266" width="5" height="9" fill="#26a69a"/>
<circle cx="1269.4" cy="322.3" r="18.2" fill="none" stroke="#fff" stroke-width="3.6"/>
<circle cx="1269.4" cy="322.3" r="16.3" fill="#fff" stroke="#9c27b0" stroke-width="2.4"/>
<polygon points="1273.6,313.0 1275.4,314.2 1270.0,321.2 1276.8,321.2 1265.6,331.3 1264.0,330.2 1269.3,323.8 1262.2,323.5" fill="#9c27b0"/>
</g>
<!-- logo -->
<path d="M20.3,526.2 H40.7 V551.7 H30.8 V536.3 H20.3 Z" fill="#131722"/>
<circle cx="49.1" cy="531.1" r="4.9" fill="#131722"/>
<path d="M59.6,526.2 H71 L61,551.7 H49.4 Z" fill="#131722"/>
</svg>
<div class="t" style="left:16.7px;top:15.53px;font-size:20.17px;font-weight:400;color:#131722;">adebowalexy created with TradingView.com, Nov 27, 2025 07:57 UTC</div>
<div class="t" style="left:30.2px;top:62.59px;font-size:19.62px;font-weight:400;color:#131722;">COW / TetherUS · 1D · Binance</div>
<div class="t" style="left:316.2px;top:62.41px;font-size:19.6px;font-weight:400;color:#26a69a;letter-spacing:0.5px;">0.1911</div>
<div class="t" style="left:389.0px;top:62.41px;font-size:19.6px;font-weight:400;color:#26a69a;letter-spacing:0.3px;">+0.0074</div>
<div class="t" style="left:468.5px;top:62.41px;font-size:19.6px;font-weight:400;color:#26a69a;">(+4.03%)</div>
<div class="t" style="left:31.2px;top:89.89px;font-size:20.1px;font-weight:400;color:#131722;">EMA (9, close)</div>
<div class="t" style="left:30.5px;top:361.65px;font-size:19.55px;font-weight:400;color:#131722;">Stoch RSI (3, 3, 14, 14, close)</div>
<div class="t" style="left:1313.4px;top:65.74px;font-size:20.8px;font-weight:400;color:#131722;">0.5000</div>
<div class="t" style="left:1313.4px;top:166.94px;font-size:20.8px;font-weight:400;color:#131722;">0.3000</div>
<div class="t" style="left:1313.4px;top:246.34px;font-size:20.8px;font-weight:400;color:#131722;">0.2000</div>
<div class="t" style="left:1313.4px;top:317.64px;font-size:20.8px;font-weight:400;color:#131722;">0.1400</div>
<div class="t" style="left:1313.4px;top:343.04px;font-size:20.8px;font-weight:400;color:#131722;">100.00</div>
<div class="t" style="left:1313.4px;top:422.54px;font-size:20.8px;font-weight:400;color:#131722;">0.00</div>
<div style="position:absolute;left:1300px;top:252.2px;width:102px;height:52.8px;background:#26a69a;border-radius:0 3px 3px 0"></div>
<div style="position:absolute;left:1300px;top:305.4px;width:84.7px;height:28.4px;background:#2962ff;border-radius:0 3px 3px 0"></div>
<div style="position:absolute;left:1300px;top:347.3px;width:74.8px;height:28.2px;background:#2962ff;border-radius:0 3px 3px 0"></div>
<div style="position:absolute;left:1300px;top:376.6px;width:74.8px;height:27.6px;background:#ff6d00;border-radius:0 3px 3px 0"></div>
<div class="t" style="left:1314.1px;top:256.36px;font-size:20.6px;font-weight:400;color:#fff;">0.1911</div>
<div class="t" style="left:1314.1px;top:281.24px;font-size:19.8px;font-weight:400;color:rgba(255,255,255,0.85);">16:02:51</div>
<div class="t" style="left:1314.1px;top:309.46px;font-size:20.6px;font-weight:400;color:#fff;">0.1831</div>
<div class="t" style="left:1314.1px;top:351.36px;font-size:20.6px;font-weight:400;color:#fff;">85.92</div>
<div class="t" style="left:1314.1px;top:380.36px;font-size:20.6px;font-weight:400;color:#fff;">69.29</div>
<div class="t" style="left:14.5px;width:80px;text-align:center;top:456.51px;font-size:19.6px;font-weight:700">Jun</div>
<div class="t" style="left:217.5px;width:80px;text-align:center;top:456.51px;font-size:19.6px;font-weight:700">Jul</div>
<div class="t" style="left:428.5px;width:80px;text-align:center;top:456.51px;font-size:19.6px;font-weight:700">Aug</div>
<div class="t" style="left:638.5px;width:80px;text-align:center;top:456.51px;font-size:19.6px;font-weight:700">Sep</div>
<div class="t" style="left:842.5px;width:80px;text-align:center;top:456.51px;font-size:19.6px;font-weight:700">Oct</div>
<div class="t" style="left:1052.5px;width:80px;text-align:center;top:456.51px;font-size:19.6px;font-weight:700">Nov</div>
<div style="position:absolute;left:17px;top:445px;width:1282px;height:40px;overflow:hidden"><div class="t" style="left:1238.5px;width:80px;text-align:center;top:11.51px;font-size:19.6px;font-weight:700">Dec</div></div>
<div class="t" style="left:83.4px;top:521.53px;font-size:36px;font-weight:700;color:#131722;letter-spacing:-0.6px;-webkit-text-stroke:0.4px #fff;">TradingView</div>
</body></html>
